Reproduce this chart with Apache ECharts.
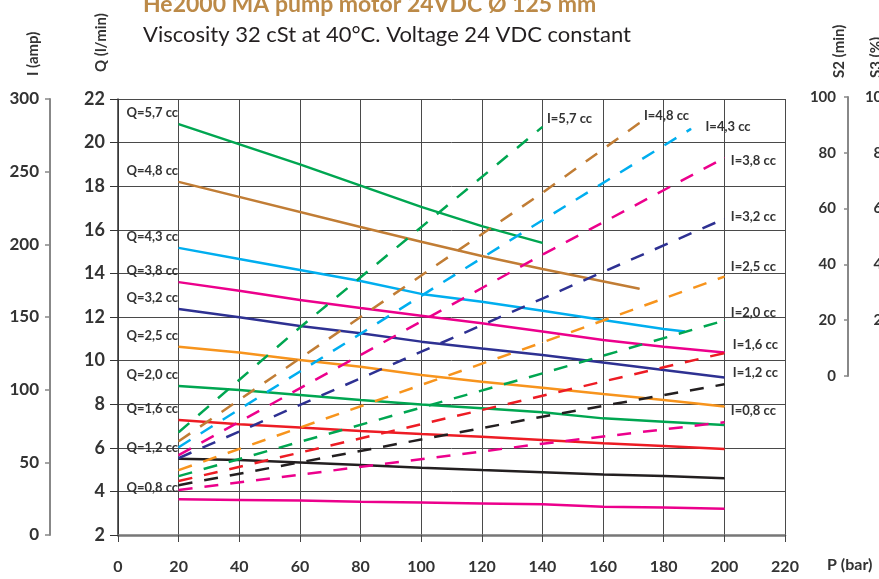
<!DOCTYPE html>
<html>
<head>
<meta charset="utf-8">
<script src="https://cdn.jsdelivr.net/npm/echarts@6/dist/echarts.min.js"></script>
<style>
  html, body { margin: 0; padding: 0; background: #fff; }
  #main { width: 879px; height: 579px; }
</style>
</head>
<body>
<div id="main"></div>
<script>
// flow curves Q (l/min) vs P (bar), one per displacement
const flowNames = ['Q=5,7 cc', 'Q=4,8 cc', 'Q=4,3 cc', 'Q=3,8 cc', 'Q=3,2 cc', 'Q=2,5 cc', 'Q=2,0 cc', 'Q=1,6 cc', 'Q=1,2 cc', 'Q=0,8 cc'];
const pressure = [20, 40, 60, 80, 100, 120, 140, 160, 180, 200];
const flowPressure = [
  [20, 60, 100, 120, 140],
  [20, 80, 100, 120, 140, 172],
  [20, 40, 60, 80, 100, 120, 140, 160, 180, 187],
  pressure, pressure, pressure, pressure, pressure, pressure, pressure
];
const flowValues = [
  [20.85, 19.0, 17.05, 16.17, 15.4],
  [18.2, 16.13, 15.45, 14.8, 14.2, 13.3],
  [15.17, 14.66, 14.16, 13.65, 13.06, 12.7, 12.29, 11.86, 11.45, 11.33],
  [13.6, 13.2, 12.78, 12.41, 12.06, 11.71, 11.33, 10.94, 10.64, 10.37],
  [12.37, 11.99, 11.59, 11.25, 10.87, 10.56, 10.26, 9.91, 9.57, 9.23],
  [10.64, 10.37, 10.03, 9.72, 9.34, 9.03, 8.76, 8.47, 8.19, 7.89],
  [8.83, 8.65, 8.42, 8.19, 7.99, 7.81, 7.63, 7.35, 7.2, 7.05],
  [7.28, 7.08, 6.93, 6.77, 6.63, 6.51, 6.36, 6.21, 6.08, 5.94],
  [5.5, 5.44, 5.33, 5.21, 5.09, 4.98, 4.88, 4.78, 4.71, 4.6],
  [3.64, 3.61, 3.58, 3.52, 3.49, 3.45, 3.41, 3.3, 3.26, 3.2]
];

// current curves I (amp) vs P (bar)
const currentNames = ['I=5,7 cc', 'I=4,8 cc', 'I=4,3 cc', 'I=3,8 cc', 'I=3,2 cc', 'I=2,5 cc', 'I=2,0 cc', 'I=1,6 cc', 'I=1,2 cc', 'I=0,8 cc'];
const currentPressure = [
  [20, 60, 140],
  [20, 140, 172],
  [20, 140, 189],
  [20, 140, 200],
  [20, 140, 200],
  [20, 140, 200],
  [20, 140, 200],
  [20, 140, 200],
  [20, 140, 200],
  [20, 140, 200]
];
const currentValues = [
  [70.7, 142.8, 280.8],
  [64.5, 235.5, 283.5],
  [60.4, 216.6, 279.4],
  [54.9, 192.9, 259.5],
  [52.9, 162.7, 217.6],
  [44.6, 132.5, 177.8],
  [40.5, 111.2, 147.6],
  [37.1, 95.8, 125.2],
  [34.3, 81.4, 103.7],
  [30.9, 62.8, 77.6]
];

const colors = ['#00a651', '#c17d35', '#00aeef', '#ec008c', '#2e3192', '#f7941d', '#00a651', '#ed1c24', '#231f20', '#ec008c'];
// label nudges for the I= tags at the end of the dashed lines
const endLabelOffset = [[0, -8], [0, -7], [10, -2], [2, 3], [2, -2], [2, -10], [2, -8], [4, -8], [4, -11], [2, -11]];

const FONT = 'Lato, "Open Sans", sans-serif';
const txt = '#333';

let chart = echarts.init(document.getElementById('main'), null, { renderer: 'canvas' });

let series = [];

flowNames.forEach(function (name, i) {
  let data = flowPressure[i].map(function (p, k) {
    return [p, flowValues[i][k]];
  });
  data[0] = {
    value: data[0],
    label: {
      show: true,
      position: 'left',
      distance: 0,
      offset: [0, -11],
      formatter: name,
      fontFamily: FONT,
      fontWeight: 'bold',
      fontSize: 13,
      color: txt
    }
  };
  series.push({
    name: name,
    type: 'line',
    xAxisIndex: 0,
    yAxisIndex: 0,
    symbol: 'circle',
    symbolSize: 1,
    showSymbol: true,
    data: data,
    lineStyle: { color: colors[i], width: 2.5 },
    itemStyle: { color: colors[i] },
    z: 3
  });
});

currentNames.forEach(function (name, i) {
  let data = currentPressure[i].map(function (p, k) {
    return [p, currentValues[i][k]];
  });
  let last = data.length - 1;
  data[last] = {
    value: data[last],
    label: {
      show: true,
      position: 'right',
      distance: 4,
      offset: endLabelOffset[i],
      formatter: name,
      fontFamily: FONT,
      fontWeight: 'bold',
      fontSize: 13,
      color: txt
    }
  };
  series.push({
    name: name,
    type: 'line',
    xAxisIndex: 0,
    yAxisIndex: 1,
    symbol: 'circle',
    symbolSize: 1,
    showSymbol: true,
    data: data,
    lineStyle: { color: colors[i], width: 2.5, type: [14, 12] },
    itemStyle: { color: colors[i] },
    z: 4
  });
});

// rotated axis names sit a bit left of their axis line
let axisNameStyle = function (shift) {
  return {
    fontFamily: FONT,
    fontWeight: 'bold',
    fontSize: 15,
    color: txt,
    verticalAlign: 'bottom',
    padding: [0, 0, Math.max(shift - 9, 0), 0]
  };
};
let tickLabel = function (size, margin) {
  return { fontFamily: FONT, fontWeight: 'bold', fontSize: size, color: txt, margin: margin };
};

let options = {
  animation: false,
  backgroundColor: '#fff',
  title: [{
    text: 'He2000 MA pump motor 24VDC Ø 125 mm',
    left: 138,
    top: -12,
    textStyle: { fontFamily: FONT, fontWeight: 'bold', fontSize: 23, color: '#bc8a48' }
  }, {
    text: 'Viscosity 32 cSt at 40°C. Voltage 24 VDC constant',
    left: 138,
    top: 19,
    textStyle: { fontFamily: FONT, fontWeight: 'normal', fontSize: 22, color: '#231f20' }
  }],
  grid: [
    { left: 118, right: 94, top: 99, bottom: 44 },
    { left: 848, width: 30, top: 97, height: 279 }
  ],
  xAxis: [{
    gridIndex: 0,
    type: 'value',
    min: 0,
    max: 220,
    interval: 20,
    name: 'P (bar)',
    nameLocation: 'end',
    nameGap: 42,
    nameTextStyle: {
      fontFamily: FONT, fontWeight: 'bold', fontSize: 16, color: txt,
      verticalAlign: 'top', padding: [22, 0, 0, 0]
    },
    axisLine: { lineStyle: { color: '#777', width: 2.5 } },
    axisTick: { length: 7, lineStyle: { color: '#444' } },
    axisLabel: tickLabel(16, 24),
    splitLine: { lineStyle: { color: '#4a4a4a', width: 1 } }
  }, {
    gridIndex: 1,
    type: 'value',
    min: 0,
    max: 1,
    show: false
  }],
  yAxis: [{
    // Q (l/min)
    gridIndex: 0,
    type: 'value',
    position: 'left',
    min: 2,
    max: 22,
    interval: 2,
    name: 'Q (l/min)',
    nameLocation: 'end',
    nameRotate: 90,
    nameGap: 27,
    nameTextStyle: axisNameStyle(18),
    axisLine: { show: true, lineStyle: { color: '#333', width: 1.5 } },
    axisTick: { show: true, length: 8, lineStyle: { color: '#333' } },
    axisLabel: tickLabel(18, 13),
    splitLine: { lineStyle: { color: '#4a4a4a', width: 1 } }
  }, {
    // I (amp)
    gridIndex: 0,
    type: 'value',
    position: 'left',
    offset: 68,
    min: 0,
    max: 300,
    interval: 50,
    name: 'I (amp)',
    nameLocation: 'end',
    nameRotate: 90,
    nameGap: 23,
    nameTextStyle: axisNameStyle(18),
    axisLine: { show: true, lineStyle: { color: '#888', width: 2 } },
    axisTick: { show: true, length: 5, lineStyle: { color: '#888', width: 1.5 } },
    axisLabel: tickLabel(17, 11),
    splitLine: { show: false }
  }, {
    // S2 (min)
    gridIndex: 1,
    type: 'value',
    position: 'left',
    min: 0,
    max: 100,
    interval: 20,
    name: 'S2 (min)',
    nameLocation: 'end',
    nameRotate: 90,
    nameGap: 19,
    nameTextStyle: axisNameStyle(10),
    axisLine: { show: true, lineStyle: { color: '#888', width: 2 } },
    axisTick: { show: true, length: 4, lineStyle: { color: '#888', width: 1.5 } },
    axisLabel: tickLabel(15, 12),
    splitLine: { show: false }
  }, {
    // S3 (%) - mostly outside the picture
    gridIndex: 1,
    type: 'value',
    position: 'left',
    offset: -55,
    min: 0,
    max: 100,
    interval: 20,
    name: 'S3 (%)',
    nameLocation: 'end',
    nameRotate: 90,
    nameGap: 19,
    nameTextStyle: axisNameStyle(28),
    axisLine: { show: true, lineStyle: { color: '#888', width: 2 } },
    axisTick: { show: true, length: 4, lineStyle: { color: '#888', width: 1.5 } },
    axisLabel: tickLabel(15, 12),
    splitLine: { show: false }
  }],
  series: series
};

chart.setOption(options);
</script>
</body>
</html>
